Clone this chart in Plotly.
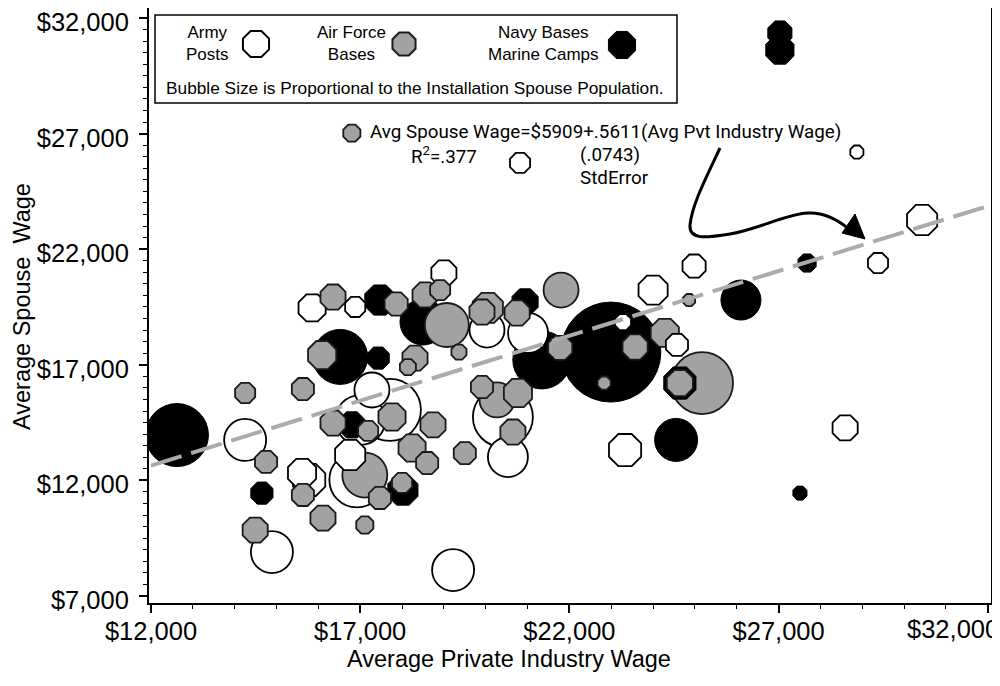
import math
import plotly.graph_objects as go

# ---------------- data ----------------
army_x = [20820, 28870, 30430, 29375, 24980, 24000, 24570, 23330, 28590, 23280,
          19000, 20030, 21010, 20410, 20530, 15850, 16880, 17280, 17710, 17000,
          14250, 15610, 15780, 14890, 19220, 16920, 16760]
army_y = [25730, 26200, 23260, 21400, 21270, 20230, 17860, 13310, 14270, 18850,
          20970, 18500, 18380, 14740, 13010, 19460, 19500, 15910, 15050, 14610,
          13750, 12320, 12020, 8900, 8120, 12020, 13100]
army_pop = [800, 340, 1800, 800, 1060, 1680, 970, 2050, 1250, 510,
            1250, 2450, 3200, 7200, 3200, 1460, 800, 2450, 7690, 5000,
            3530, 1570, 2050, 3530, 3530, 6050, 1800]

af_x = [16800, 24860, 24280, 25170, 24640, 23570, 22830, 21800, 21780, 18550,
        18910, 19070, 19360, 18310, 18140, 20050, 19910, 20750, 19910, 20270,
        20770, 20650, 19500, 18740, 18240, 18600, 16350, 17860, 16090, 15630,
        14250, 14750, 15630, 16110, 14490, 16350, 17190, 17760, 17110, 18000,
        17470, 17110]
af_y = [27020, 19800, 18380, 16210, 16210, 17770, 16210, 20230, 17730, 20020,
        20230, 18720, 17550, 17290, 16900, 19460, 19280, 19240, 16040, 15480,
        15780, 14090, 13180, 14400, 13400, 12750, 19930, 19630, 17420, 15950,
        15780, 12800, 11370, 10370, 9850, 14480, 14140, 14740, 12230, 11890,
        11240, 10070]
af_pop = [580, 290, 1570, 7690, 1350, 1250, 340, 2450, 1150, 1250,
          800, 3870, 450, 1250, 510, 1800, 1250, 1250, 970, 2450,
          1570, 1250, 970, 1250, 1460, 970, 1250, 1060, 1570, 970,
          800, 970, 970, 1250, 1250, 1250, 800, 1460, 4050, 800,
          970, 580]

navy_x = [27030, 27030, 27680, 26100, 24550, 22990, 21340, 27510, 12620, 14650,
          16520, 17430, 17470, 18500, 20940, 18020, 16800, 24640]
navy_y = [31350, 30610, 21400, 19800, 13750, 17550, 17210, 11450, 13960, 11450,
          17340, 17290, 19800, 18850, 19720, 11580, 14400, 16210]
navy_pop = [1150, 1570, 650, 3200, 3700, 20000, 6730, 390, 7940, 970,
            6050, 970, 1800, 4230, 1350, 1800, 1350, 2050]

categories = ["Army<br>Posts", "Air Force<br>Bases", "Navy Bases<br>Marine Camps"]
x_ticks = [12000, 17000, 22000, 27000, 32000]
y_ticks = [7000, 12000, 17000, 22000, 27000, 32000]
x_title = "Average Private Industry Wage"
y_title = "Average Spouse  Wage"
reg_intercept = 5909
reg_slope = 0.5611

# ---------------- styling ----------------
X_RANGE = [11952, 32076]
Y_RANGE = [6697, 32431]
BODY = 8                                     # default page margin of the html body
PL, PR, PT, PB = 149, 991, 8, 603            # plot area in screen pixels
SPOUSES_PER_PX2 = 2.0
OCT = 0.92                                   # octagon symbol extent factor
ROUND_FROM = 33                              # bigger bubbles look round
FONT = "Liberation Sans, Arial, sans-serif"
EQ_FONT = "Roboto, sans-serif"
TICK_SIZE = 25.5

styles = {
    "army": dict(fill="white", line="black", lw=1.8),
    "af": dict(fill="#a2a2a2", line="#1a1a1a", lw=1.8),
    "navy": dict(fill="black", line="black", lw=1.0),
}


def visible_d(p):
    return math.sqrt(p / SPOUSES_PER_PX2)


def sym(p):
    return "circle" if visible_d(p) >= ROUND_FROM else "octagon"


def msize(p):
    d = visible_d(p)
    return d if d >= ROUND_FROM else d / OCT


def money(v):
    return f"${v:,}"


def px_x(px):
    return (px - PL) / (PR - PL)


def px_y(py):
    return (PB - py) / (PB - PT)


pts = []
for cat, xs, ys, ps in (("army", army_x, army_y, army_pop),
                        ("af", af_x, af_y, af_pop),
                        ("navy", navy_x, navy_y, navy_pop)):
    for x, y, p in zip(xs, ys, ps):
        pts.append((p, x, y, cat))
pts.sort(key=lambda t: -t[0])

fig = go.Figure()
fig.add_trace(go.Scatter(
    x=[t[1] for t in pts], y=[t[2] for t in pts], mode="markers",
    marker=dict(symbol=[sym(t[0]) for t in pts],
                size=[msize(t[0]) for t in pts],
                color=[styles[t[3]]["fill"] for t in pts],
                line=dict(color=[styles[t[3]]["line"] for t in pts],
                          width=[styles[t[3]]["lw"] for t in pts]),
                opacity=1),
    hoverinfo="skip", showlegend=False))

# regression line
lx = [x_ticks[0], X_RANGE[1]]
fig.add_trace(go.Scatter(
    x=lx, y=[reg_intercept + reg_slope * v for v in lx], mode="lines",
    line=dict(color="#ababab", width=4, dash="32px,10px"),
    hoverinfo="skip", showlegend=False))

# legend swatches on a pixel overlay axis
leg_px = [256, 404, 622]
leg_d = [26, 23, 27]
leg_cat = ["army", "af", "navy"]
fig.add_trace(go.Scatter(
    x=leg_px, y=[44, 44, 45], xaxis="x2", yaxis="y2", mode="markers",
    marker=dict(symbol="octagon", size=[d / OCT for d in leg_d], opacity=1,
                color=[styles[c]["fill"] for c in leg_cat],
                line=dict(color=[styles[c]["line"] for c in leg_cat],
                          width=[2, 2, 1])),
    hoverinfo="skip", showlegend=False))

axis_common = dict(showline=True, linecolor="black", linewidth=2, mirror=True,
                   showgrid=False, zeroline=False, ticks="outside", ticklen=8,
                   tickwidth=1.5, tickcolor="black", automargin=False,
                   ticklabeloverflow="allow",
                   tickfont=dict(family=FONT, size=TICK_SIZE, color="black"))

x_text = [money(v) for v in x_ticks[:-1]] + [""]   # last one placed inside the page
fig.update_layout(
    width=1000, height=686,
    margin=dict(l=PL - BODY, r=1000 - PR + BODY, t=PT - BODY, b=686 - PB + BODY,
                autoexpand=False),
    paper_bgcolor="white", plot_bgcolor="white",
    font=dict(family=FONT, color="black"),
    xaxis=dict(range=X_RANGE, tickmode="array", tickvals=x_ticks, ticktext=x_text,
               ticklabelstandoff=-4,
               minor=dict(ticks="outside", ticklen=4, tickwidth=1, tickcolor="black",
                          tick0=x_ticks[0], dtick=1000, showgrid=False),
               **axis_common),
    yaxis=dict(range=Y_RANGE, tickmode="array", tickvals=y_ticks,
               ticktext=[money(v) for v in y_ticks], ticklabelstandoff=5,
               ticklabelshift=4,
               minor=dict(ticks="outside", ticklen=4, tickwidth=1, tickcolor="black",
                          tick0=y_ticks[0], dtick=500, showgrid=False),
               **axis_common),
    xaxis2=dict(overlaying="x", range=[PL, PR], visible=False, fixedrange=True),
    yaxis2=dict(overlaying="y", range=[PB, PT], visible=False, fixedrange=True),
)

shapes = [
    dict(type="rect", xref="x2", yref="y2", x0=155, x1=677, y0=15, y1=103,
         line=dict(color="black", width=1.5), fillcolor="white", layer="below"),
    dict(type="path", xref="x2", yref="y2",
         path="M 720,148 C 705,180 692,205 690,225 C 689,240 705,238 730,234 "
              "C 760,229 785,214 808,213 C 825,212 838,220 849,229",
         line=dict(color="black", width=3)),
    dict(type="path", xref="x2", yref="y2",
         path="M 842,233 L 855,214 L 865,239 Z",
         line=dict(color="black", width=1), fillcolor="black"),
]
fig.update_layout(shapes=shapes)

ann = []
leg_text_x = [207, 351, 543]
for tx, txt in zip(leg_text_x, categories):
    ann.append(dict(x=tx, y=43, xref="x2", yref="y2", text=txt, showarrow=False,
                    xanchor="center", yanchor="middle", align="center",
                    font=dict(family=FONT, size=17, color="black")))
ann.append(dict(x=415, y=88, xref="x2", yref="y2",
                text="Bubble Size is Proportional to the Installation Spouse Population.",
                showarrow=False, xanchor="center", yanchor="middle",
                font=dict(family=FONT, size=17.3, color="black")))
eq_font = dict(family=EQ_FONT, size=18.8, color="black")
ann.append(dict(x=368, y=132, xref="x2", yref="y2",
                text="Avg Spouse Wage=$5909+.5611(Avg Pvt Industry Wage)",
                showarrow=False, xanchor="left", yanchor="middle", font=eq_font))
ann.append(dict(x=409, y=155, xref="x2", yref="y2", text="R<sup>2</sup>=.377",
                showarrow=False, xanchor="left", yanchor="middle", font=eq_font))
ann.append(dict(x=578, y=155, xref="x2", yref="y2", text="(.0743)",
                showarrow=False, xanchor="left", yanchor="middle", font=eq_font))
ann.append(dict(x=578, y=178, xref="x2", yref="y2", text="StdError",
                showarrow=False, xanchor="left", yanchor="middle", font=eq_font))
# last x tick label, kept inside the page like the reference
ann.append(dict(x=px_x(953), y=px_y(629), xref="paper", yref="paper",
                text=money(x_ticks[-1]), showarrow=False,
                xanchor="center", yanchor="middle",
                font=dict(family=FONT, size=TICK_SIZE, color="black")))
# axis titles
ann.append(dict(x=px_x(509), y=px_y(659), xref="paper", yref="paper", text=x_title,
                showarrow=False, xanchor="center", yanchor="middle",
                font=dict(family=FONT, size=23.5, color="black")))
ann.append(dict(x=px_x(22), y=px_y(307), xref="paper", yref="paper", text=y_title,
                showarrow=False, textangle=-90, xanchor="center", yanchor="middle",
                font=dict(family=FONT, size=23.5, color="black")))
fig.update_layout(annotations=ann)

fig.write_html("out.html")
